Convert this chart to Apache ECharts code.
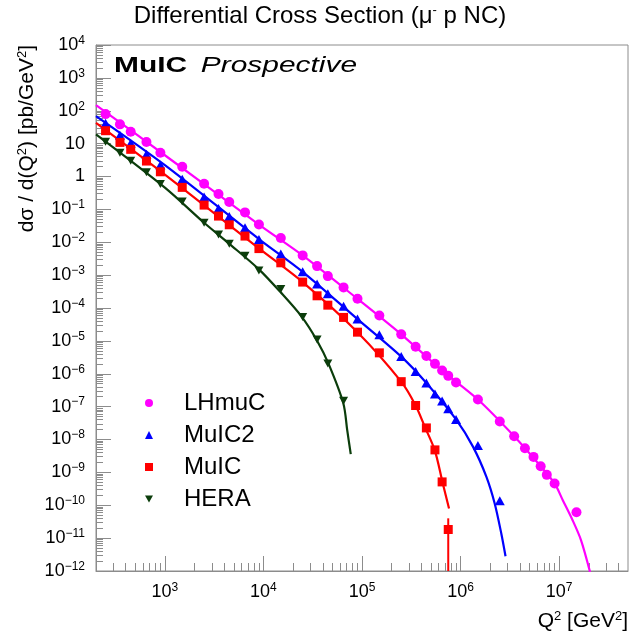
<!DOCTYPE html>
<html><head><meta charset="utf-8">
<script src="https://cdn.jsdelivr.net/npm/echarts@6/dist/echarts.min.js"></script>
<style>html,body{margin:0;padding:0;background:#fff}#c{width:629px;height:639px}</style>
</head><body><div id="c"></div>
<script>
// ---- data ----
const q2 = [250, 350, 450, 650, 900, 1500, 2500, 3500, 4500, 6500, 9000, 15000, 25000, 35000, 45000, 65000, 90000,
  150000, 250000, 350000, 450000, 550000, 650000, 750000, 900000, 1.5e6, 2.5e6, 3.5e6, 4.5e6, 5.5e6, 6.5e6, 7.5e6, 9e6, 1.5e7];
const lhmucY = [79, 38.6, 23.0, 11.2, 5.28, 1.98, 0.60, 0.292, 0.167, 0.081, 0.0345, 0.0134, 0.00398, 0.00188, 0.000933,
  4.23e-4, 1.90e-4, 5.94e-5, 1.58e-5, 6.59e-6, 3.48e-6, 2.00e-6, 1.26e-6, 8.63e-7, 5.43e-7, 1.65e-7, 3.53e-8, 1.26e-8,
  5.44e-9, 2.96e-9, 1.54e-9, 8.4e-10, 4.6e-10, 6.1e-11];
const muic2Y = [41.4, 17.9, 10.2, 4.72, 2.23, 0.818, 0.237, 0.107, 0.0612, 0.0275, 0.0122, 0.00436, 0.00126, 5.33e-4,
  2.70e-4, 1.14e-4, 4.59e-5, 1.53e-5, 3.32e-6, 1.17e-6, 5.25e-7, 2.44e-7, 1.47e-7, 8.55e-8, 4.07e-8, 6.57e-9, 1.36e-10];
const muicY = [24.7, 10.9, 6.70, 2.95, 1.39, 0.467, 0.135, 0.0625, 0.034, 0.0154, 0.00641, 0.00237, 6.14e-4, 2.35e-4,
  1.22e-4, 5.17e-5, 1.84e-5, 4.32e-6, 5.75e-7, 1.08e-7, 2.25e-8, 4.83e-9, 5.13e-10, 1.83e-11];
const heraY = [11.4, 5.28, 3.01, 1.34, 0.589, 0.175, 0.0391, 0.0173, 0.00897, 0.00387, 0.00139, 3.76e-4, 5.28e-5,
  1.11e-5, 2.06e-6, 1.50e-7];
// MuIC last point error bar [x, high, low]
const muicErr = [[750000, 4.0e-11, 1e-12]];

// fitted curves
const lhmucFitX = [200, 1000, 9000, 25000, 90000, 250000, 650000, 1.5e6, 3.5e6, 6.5e6, 9e6, 1.09e7, 1.37e7, 1.67e7, 2.06e7];
const lhmucFitY = [149, 4.43, 0.0345, 0.00398, 1.9e-4, 1.58e-5, 1.26e-6, 1.65e-7, 1.26e-8, 1.54e-9, 4.6e-10, 1.42e-10, 3.5e-11, 8.6e-12, 9.3e-13];
const muic2FitX = [200, 1000, 9000, 25000, 90000, 250000, 450000, 900000, 1.34e6, 1.83e6, 2.22e6, 2.59e6, 2.86e6];
const muic2FitY = [69, 2.22, 0.0125, 0.00126, 4.59e-5, 3.32e-6, 5.25e-7, 4.07e-8, 5.96e-9, 7.3e-10, 1.13e-10, 1.38e-11, 2.8e-12];
const muicFitX = [200, 1000, 9000, 25000, 90000, 250000, 350000, 434000, 547000, 655000, 764000];
const muicFitY = [43, 1.15, 0.0065, 6.14e-4, 1.84e-5, 5.75e-7, 1.08e-7, 2.42e-8, 4.73e-9, 5.13e-10, 7.96e-11];
const heraFitX = [200, 1000, 2500, 4500, 9000, 14800, 24500, 34800, 45600, 64700, 70800, 76900];
const heraFitY = [19.2, 0.46, 0.0391, 0.00897, 1.5e-3, 3.1e-4, 5.4e-5, 1.05e-5, 2.06e-6, 1.25e-7, 1.92e-8, 3.6e-9];

// axis ticks
const xMajor = [1e3, 1e4, 1e5, 1e6, 1e7];
const yMajor = [1e-12, 1e-11, 1e-10, 1e-9, 1e-8, 1e-7, 1e-6, 1e-5, 1e-4, 1e-3, 1e-2, 1e-1, 1, 10, 1e2, 1e3, 1e4];
const minorMult = [2, 3, 4, 5, 6, 7, 8, 9];

const xMinor = [];
for (let e = 2; e <= 7; e++) minorMult.forEach(m => { const v = m * Math.pow(10, e); if (v > 200 && v < 5e7) xMinor.push(v); });
const yMinor = [];
for (let e = -12; e < 4; e++) minorMult.forEach(m => yMinor.push(m * Math.pow(10, e)));

const FONT = '"Liberation Sans", Arial, Helvetica, sans-serif';
const AX = '#8c8c8c';
const C = { lhmuc: '#ff00ff', muic2: '#0000ff', muic: '#ff0000', hera: '#0b3d0b' };
const downTri = 'path://M0,0 L10,0 L5,8.66 Z';

function zip(xs, ys) { return ys.map((y, i) => [xs[i], y]); }
function supLabel(v) {
  const l = Math.log10(v), e = Math.round(l);
  if (Math.abs(l - e) > 1e-6) return '';
  if (e === 0) return '{b|1}';
  if (e === 1) return '{b|10}';
  return '{b|10}{s|' + (e < 0 ? '\u2212' + (-e) : e) + '}';
}
const labRich = {
  b: { fontSize: 18, fontFamily: FONT, color: '#000' },
  s: { fontSize: 12, fontFamily: FONT, color: '#000', padding: [0, 0, 9, 0] }
};

const chart = echarts.init(document.getElementById('c'), null, { renderer: 'canvas' });
const gridRect = { left: 96, top: 45, width: 532, height: 526 };

const option = {
  animation: false,
  backgroundColor: '#fff',
  grid: [
    Object.assign({ show: true, borderColor: AX, borderWidth: 1, backgroundColor: 'transparent' }, gridRect),
    Object.assign({ show: false }, gridRect)
  ],
  xAxis: [
    { type: 'log', logBase: 10, min: 200, max: 5e7, gridIndex: 0,
      axisLine: { show: true, lineStyle: { color: AX, width: 1 } },
      axisTick: { show: true, inside: true, length: 15, customValues: xMajor, lineStyle: { color: AX } },
      axisLabel: { show: true, customValues: xMajor, margin: 11, formatter: supLabel, rich: labRich },
      splitLine: { show: false }, minorTick: { show: false } },
    { type: 'log', logBase: 10, min: 200, max: 5e7, gridIndex: 1,
      axisLine: { show: false },
      axisTick: { show: true, inside: true, length: 8, customValues: xMinor, lineStyle: { color: AX } },
      axisLabel: { show: false }, splitLine: { show: false } }
  ],
  yAxis: [
    { type: 'log', logBase: 10, min: 1e-12, max: 1e4, gridIndex: 0,
      axisLine: { show: true, lineStyle: { color: AX, width: 1 } },
      axisTick: { show: true, inside: true, length: 15, customValues: yMajor, lineStyle: { color: AX } },
      axisLabel: { show: true, customValues: yMajor, margin: 11, formatter: supLabel, rich: labRich },
      splitLine: { show: false }, minorTick: { show: false } },
    { type: 'log', logBase: 10, min: 1e-12, max: 1e4, gridIndex: 1,
      axisLine: { show: false },
      axisTick: { show: true, inside: true, length: 7, customValues: yMinor, lineStyle: { color: AX } },
      axisLabel: { show: false }, splitLine: { show: false } }
  ],
  legend: {
    orient: 'vertical', left: 140, top: 386, itemGap: 8, itemWidth: 8, itemHeight: 8,
    textStyle: { fontSize: 24, fontFamily: FONT, color: '#000', lineHeight: 24, padding: [0, 0, 0, 26] },
    data: [
      { name: 'LHmuC', icon: 'circle' },
      { name: 'MuIC2', icon: 'triangle' },
      { name: 'MuIC', icon: 'rect' },
      { name: 'HERA', icon: downTri }
    ]
  },
  series: [
    { type: 'line', name: 'LHmuC fit', data: zip(lhmucFitX, lhmucFitY), smooth: 0.3, showSymbol: false, symbol: 'none',
      lineStyle: { color: C.lhmuc, width: 2.2 }, clip: true, z: 2 },
    { type: 'line', name: 'MuIC2 fit', data: zip(muic2FitX, muic2FitY), smooth: 0.3, showSymbol: false, symbol: 'none',
      lineStyle: { color: C.muic2, width: 2.2 }, clip: true, z: 2 },
    { type: 'line', name: 'MuIC fit', data: zip(muicFitX, muicFitY), smooth: 0.3, showSymbol: false, symbol: 'none',
      lineStyle: { color: C.muic, width: 2.2 }, clip: true, z: 2 },
    { type: 'line', name: 'HERA fit', data: zip(heraFitX, heraFitY), smooth: 0.3, showSymbol: false, symbol: 'none',
      lineStyle: { color: C.hera, width: 2.2 }, clip: true, z: 2 },
    { type: 'custom', name: 'MuIC err', data: muicErr, clip: true, z: 3,
      renderItem: function (params, api) {
        const p1 = api.coord([api.value(0), api.value(1)]);
        const p2 = api.coord([api.value(0), api.value(2)]);
        return { type: 'line', shape: { x1: p1[0], y1: p1[1], x2: p2[0], y2: p2[1] },
          style: { stroke: C.muic, lineWidth: 2 } };
      } },
    { type: 'scatter', name: 'LHmuC', data: zip(q2, lhmucY), symbol: 'circle', symbolSize: 10,
      itemStyle: { color: C.lhmuc, opacity: 1 }, z: 4 },
    { type: 'scatter', name: 'MuIC2', data: zip(q2, muic2Y), symbol: 'triangle', symbolSize: [10, 9],
      itemStyle: { color: C.muic2, opacity: 1 }, z: 4 },
    { type: 'scatter', name: 'MuIC', data: zip(q2, muicY), symbol: 'rect', symbolSize: 9,
      itemStyle: { color: C.muic, opacity: 1 }, z: 4 },
    { type: 'scatter', name: 'HERA', data: zip(q2, heraY), symbol: downTri, symbolSize: [9, 8],
      itemStyle: { color: C.hera, opacity: 1 }, z: 4 }
  ],
  graphic: [
    { type: 'text', x: 320, y: 16, style: {
      text: 'Differential Cross Section (\u03bc{s|-} p NC)', align: 'center', verticalAlign: 'middle',
      fontSize: 24, fontFamily: FONT, fill: '#000',
      rich: { s: { fontSize: 13, fontFamily: FONT, padding: [0, 0, 12, 0] } } } },
    { type: 'text', x: 114, y: 66, scaleX: 1.36, style: {
      text: '{bo|MuIC}   {it|Prospective}', verticalAlign: 'middle', align: 'left',
      rich: { bo: { fontSize: 22, fontWeight: 'bold', fontFamily: FONT, fill: '#000' },
              it: { fontSize: 22, fontStyle: 'italic', fontFamily: FONT, fill: '#000' } } } },
    { type: 'text', x: 27, y: 45, rotation: Math.PI / 2, style: {
      text: 'd\u03c3 / d(Q{s|2}) [pb/GeV{s|2}]', align: 'right', verticalAlign: 'middle',
      fontSize: 21, fontFamily: FONT, fill: '#000',
      rich: { s: { fontSize: 13, fontFamily: FONT, padding: [0, 0, 10, 0] } } } },
    { type: 'text', x: 628, y: 621, style: {
      text: 'Q{s|2} [GeV{s|2}]', align: 'right', verticalAlign: 'middle',
      fontSize: 21, fontFamily: FONT, fill: '#000',
      rich: { s: { fontSize: 13, fontFamily: FONT, padding: [0, 0, 10, 0] } } } }
  ]
};
chart.setOption(option);
</script></body></html>
